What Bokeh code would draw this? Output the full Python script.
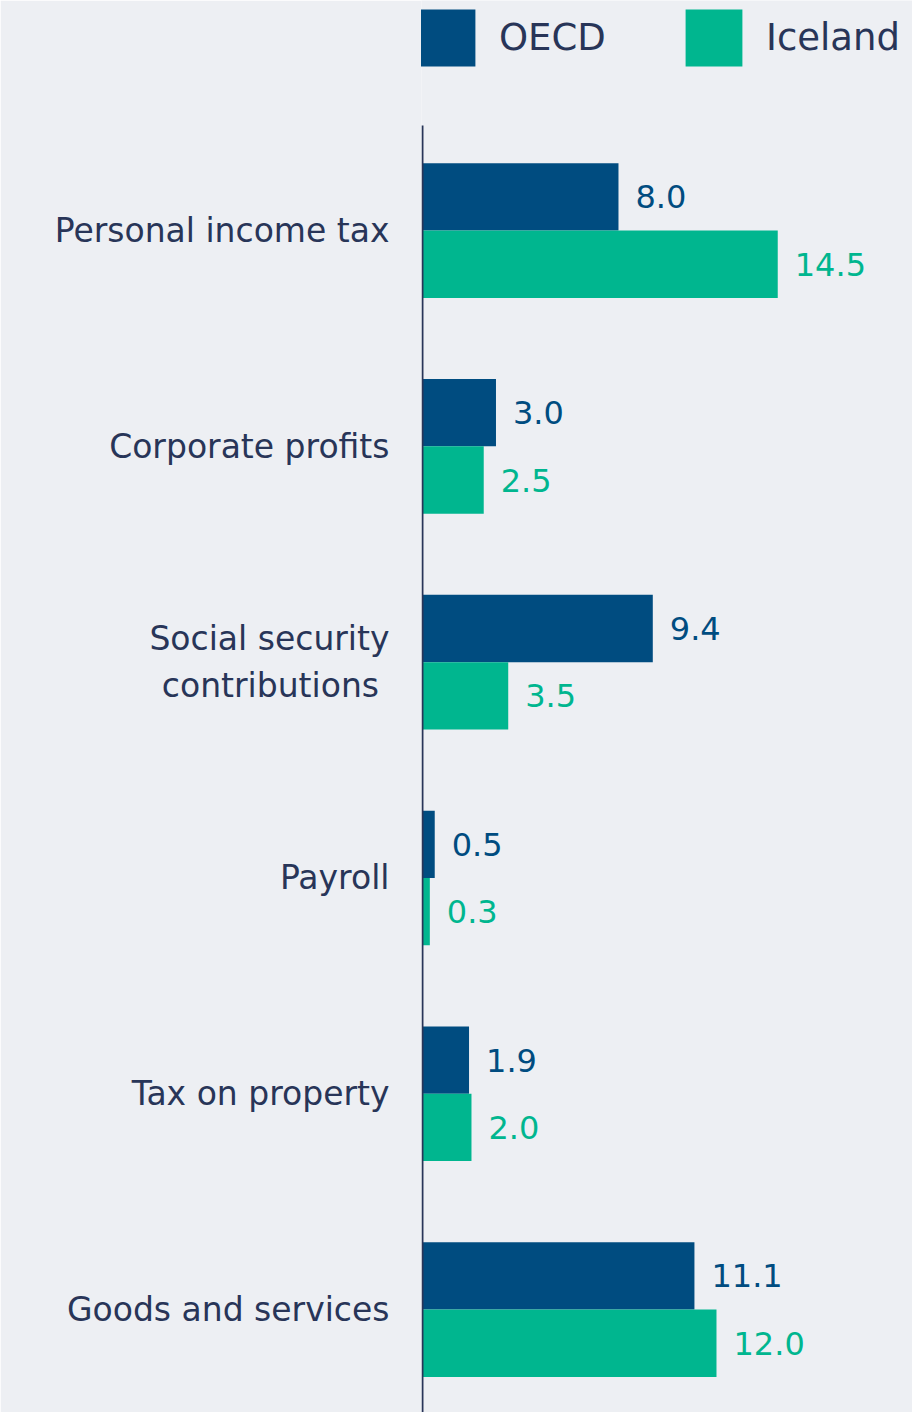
from bokeh.plotting import figure
from bokeh.models import ColumnDataSource, Range1d, FixedTicker, Legend, LegendItem
from bokeh.transform import dodge
from bokeh.core.properties import value
from bokeh.embed import file_html
from bokeh.resources import INLINE

categories = ["Personal income tax", "Corporate profits", "Social security\ncontributions\u00a0",
              "Payroll", "Tax on property", "Goods and services"]
oecd = [8.0, 3.0, 9.4, 0.5, 1.9, 11.1]
iceland = [14.5, 2.5, 3.5, 0.3, 2.0, 12.0]
series_names = ["OECD", "Iceland"]

C_OECD = "#004C80"
C_ICE = "#00B68F"
C_TEXT = "#283558"
BG = "#EDEFF3"
FONT = "DejaVu Sans"

idx = list(range(len(categories)))
src = ColumnDataSource(dict(
    idx=idx, oecd=oecd, iceland=iceland,
    oecd_lbl=[f"{v:.1f}" for v in oecd],
    ice_lbl=[f"{v:.1f}" for v in iceland],
))

W, H = 912, 1412
p = figure(width=W, height=H, output_backend="svg", toolbar_location=None,
           x_range=Range1d(-0.04, 20.0), y_range=Range1d(5.477, -1.066),
           min_border=0, min_border_left=421)
p.background_fill_color = BG
p.border_fill_color = BG
p.outline_line_color = None
p.grid.visible = False
p.xaxis.visible = False

bw = 0.312
off = 0.156
r1 = p.hbar(y=dodge("idx", -off), right="oecd", left=0, height=bw, source=src,
            fill_color=C_OECD, line_color=None)
r2 = p.hbar(y=dodge("idx", off), right="iceland", left=0, height=bw, source=src,
            fill_color=C_ICE, line_color=None)

p.text(x="oecd", y=dodge("idx", -off), text="oecd_lbl", source=src, x_offset=17,
       text_align="left", text_baseline="middle", text_font=value(FONT),
       text_font_size="32px", text_color=C_OECD)
p.text(x="iceland", y=dodge("idx", off), text="ice_lbl", source=src, x_offset=17,
       text_align="left", text_baseline="middle", text_font=value(FONT),
       text_font_size="32px", text_color=C_ICE)

# axis line (starts below the legend)
p.segment(x0=0, y0=-0.487, x1=0, y1=6, line_color=C_TEXT, line_width=2)

ax = p.yaxis[0]
ax.ticker = FixedTicker(ticks=idx)
ax.major_label_overrides = {i: c for i, c in zip(idx, categories)}
ax.axis_line_color = None
ax.major_tick_line_color = None
ax.minor_tick_line_color = None
ax.major_tick_out = 0
ax.major_tick_in = 0
ax.major_label_standoff = 32
ax.major_label_text_font = FONT
ax.major_label_text_font_size = "33px"
ax.major_label_text_color = C_TEXT

legend = Legend(items=[LegendItem(label=series_names[0], renderers=[r1]),
                       LegendItem(label=series_names[1], renderers=[r2])],
                orientation="horizontal", location=(-10, 1339),
                glyph_width=71, glyph_height=71, label_standoff=17,
                label_width=179, spacing=0, padding=0, margin=0,
                border_line_color=None, background_fill_color=BG,
                background_fill_alpha=0,
                label_text_font=FONT, label_text_font_size="37px",
                label_text_color=C_TEXT)
p.add_layout(legend, "center")

open("out.html", "w").write(file_html(p, INLINE))
